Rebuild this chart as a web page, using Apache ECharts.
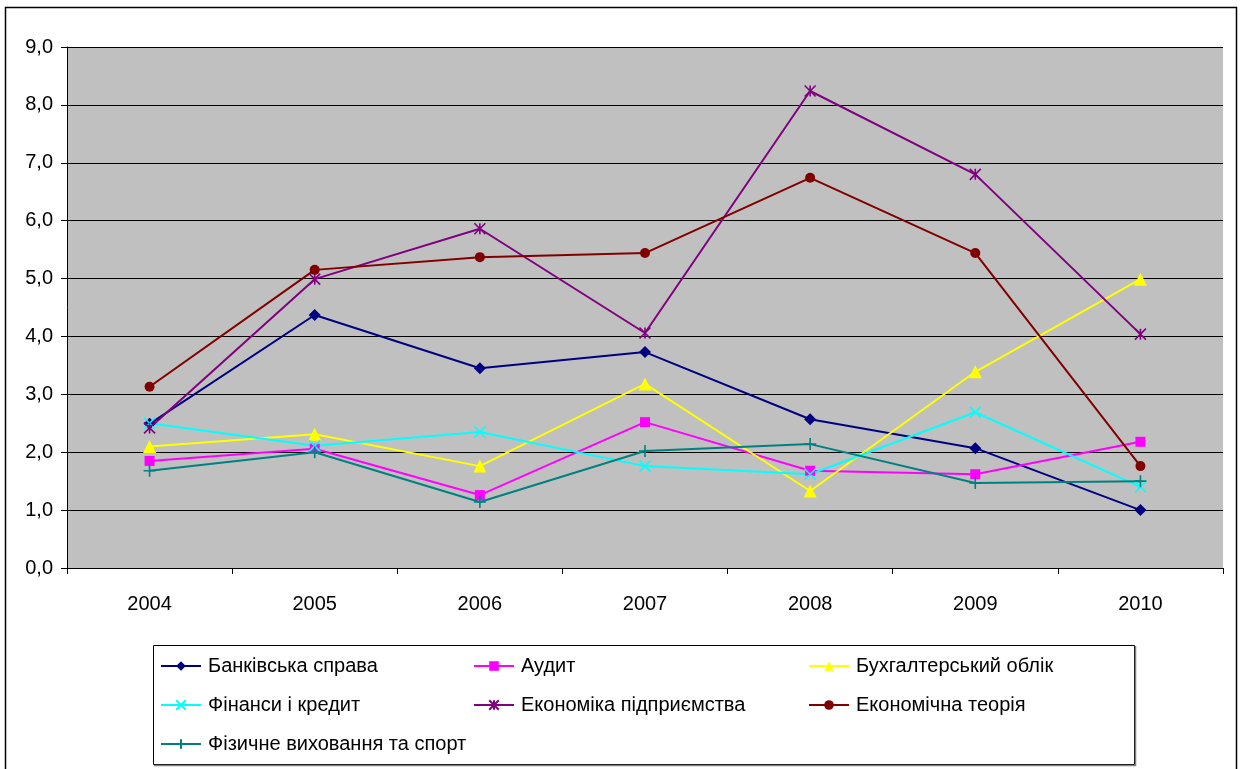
<!DOCTYPE html>
<html>
<head>
<meta charset="utf-8">
<script src="https://cdn.jsdelivr.net/npm/echarts@6/dist/echarts.min.js"></script>
<style>html,body{margin:0;padding:0;background:#fff}#c{width:1242px;height:769px}</style>
</head>
<body>
<div id="c"></div>
<script>
const years = ['2004','2005','2006','2007','2008','2009','2010'];
const yTicks = [0,1,2,3,4,5,6,7,8,9];
const bankivska = [2.49, 4.37, 3.45, 3.73, 2.57, 2.07, 1.00];
const audyt = [1.85, 2.06, 1.26, 2.52, 1.68, 1.62, 2.18];
const bukhalter = [2.10, 2.31, 1.76, 3.18, 1.33, 3.39, 4.99];
const finansy = [2.50, 2.11, 2.35, 1.76, 1.62, 2.69, 1.40];
const ekonPidpr = [2.42, 4.99, 5.86, 4.06, 8.24, 6.80, 4.04];
const ekonTeor = [3.13, 5.15, 5.37, 5.44, 6.74, 5.44, 1.76];
const fizVykh = [1.68, 2.00, 1.14, 2.02, 2.14, 1.47, 1.50];
const names = ['Банківська справа','Аудит','Бухгалтерський облік','Фінанси і кредит','Економіка підприємства','Економічна теорія','Фізичне виховання та спорт'];

const FONT = '"Liberation Sans", Arial, sans-serif';
const X_PATH = 'path://M0,0L10,10M10,0L0,10';
const STAR_PATH = 'path://M0,0L10,10M10,0L0,10M5,0L5,10';
const PLUS_PATH = 'path://M5,0L5,10M0,5L10,5';

function mk(name, data, color, symbol, size, stroke) {
  return {
    name, type: 'line', data, symbol, symbolSize: size,
    showAllSymbol: true,
    lineStyle: {color, width: 2},
    itemStyle: stroke ? {color: color, borderColor: color, borderWidth: 1.6} : {color: color, borderWidth: 0},
    emphasis: {disabled: true},
    animation: false, z: 3
  };
}

const chart = echarts.init(document.getElementById('c'), null, {renderer: 'canvas'});
const legendBase = {
  orient: 'vertical', itemWidth: 40, itemHeight: 12, itemGap: 19,
  textStyle: {fontFamily: FONT, fontSize: 20, color: '#000', lineHeight: 20, padding: [0,0,0,2]},
  padding: 0, selectedMode: false, top: 656
};
chart.setOption({
  animation: false,
  backgroundColor: '#fff',
  graphic: [
    {type: 'rect', shape: {x: 5.5, y: 7.5, width: 1231, height: 770}, style: {fill: 'none', stroke: '#000', lineWidth: 1.5}, z: -1},
    {type: 'rect', shape: {x: 153.5, y: 645.5, width: 981, height: 119}, style: {fill: '#fff', stroke: '#000', lineWidth: 1}, z: 0},
    {type: 'polyline', shape: {points: [[1135.5, 646], [1135.5, 765.5], [154, 765.5]]}, style: {fill: 'none', stroke: '#808080', lineWidth: 1.5}, z: 0}
  ],
  grid: {left: 67, top: 47, right: 19, bottom: 201, show: true, backgroundColor: '#C0C0C0', borderWidth: 0},
  legend: [
    Object.assign({}, legendBase, {left: 160, data: [names[0], names[3], names[6]]}),
    Object.assign({}, legendBase, {left: 473, data: [names[1], names[4]]}),
    Object.assign({}, legendBase, {left: 808, data: [names[2], names[5]]})
  ],
  xAxis: {
    type: 'category', data: years, boundaryGap: true,
    axisLine: {lineStyle: {color: '#000', width: 1}},
    axisTick: {show: true, length: 6, inside: false, lineStyle: {color: '#000'}},
    axisLabel: {fontFamily: FONT, fontSize: 20, color: '#000', margin: 26},
    splitLine: {show: false}
  },
  yAxis: {
    type: 'value', min: yTicks[0], max: yTicks[yTicks.length-1], interval: 1,
    axisLine: {show: true, lineStyle: {color: '#000', width: 1}},
    axisTick: {show: true, length: 6, lineStyle: {color: '#000'}},
    axisLabel: {fontFamily: FONT, fontSize: 20, color: '#000', margin: 14,
      formatter: v => v.toFixed(1).replace('.', ',')},
    splitLine: {show: true, lineStyle: {color: '#000', width: 1}}
  },
  series: [
    mk(names[0], bankivska, '#000080', 'diamond', 12, false),
    mk(names[1], audyt, '#FF00FF', 'rect', 10, false),
    mk(names[2], bukhalter, '#FFFF00', 'triangle', 13, false),
    mk(names[3], finansy, '#00FFFF', X_PATH, 11, true),
    mk(names[4], ekonPidpr, '#800080', STAR_PATH, 11, true),
    mk(names[5], ekonTeor, '#800000', 'circle', 10, false),
    mk(names[6], fizVykh, '#008080', PLUS_PATH, 12, true)
  ]
});
</script>
</body>
</html>
